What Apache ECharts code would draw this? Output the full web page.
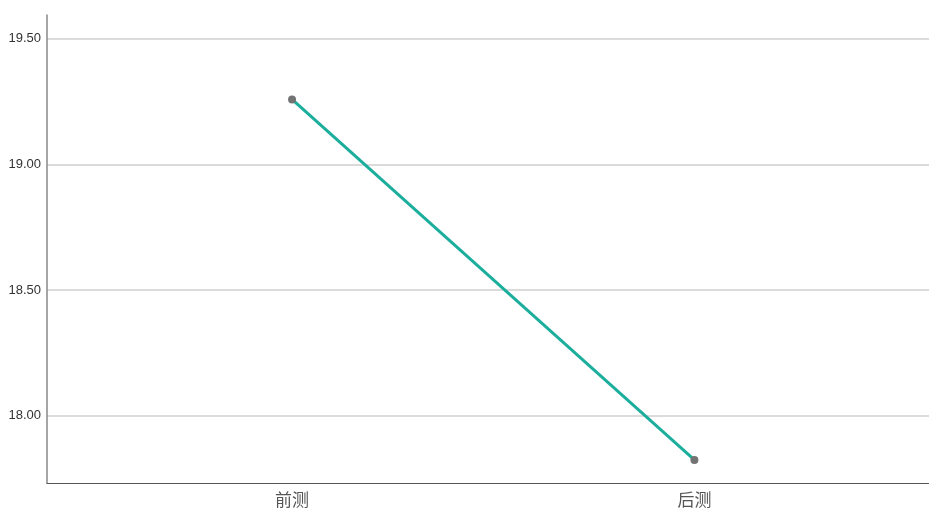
<!DOCTYPE html>
<html><head><meta charset="utf-8">
<script src="https://cdn.jsdelivr.net/npm/echarts@6/dist/echarts.min.js"></script>
<style>html,body{margin:0;padding:0;background:#fff}#c{width:929px;height:511px}</style>
</head><body><div id="c"></div>
<script>
const categories = ['前测', '后测'];
const values = [19.258, 17.824];
const yTicks = [18.0, 18.5, 19.0, 19.5];

const chart = echarts.init(document.getElementById('c'));
const data = values.map((v, i) => [i, v]);
chart.setOption({
  animation: false,
  grid: { left: 47, right: 0, top: 15, bottom: 28, containLabel: false },
  xAxis: {
    type: 'value', min: -0.609, max: 1.583,
    axisLine: { show: true, onZero: false, lineStyle: { color: '#555', width: 1.2 } },
    axisTick: { show: false, customValues: [0, 1] },
    splitLine: { show: false },
    axisLabel: {
      customValues: [0, 1],
      formatter: v => categories[Math.round(v)] || '',
      fontFamily: 'Noto Sans CJK SC', fontSize: 17, color: '#555', margin: 8
    }
  },
  yAxis: {
    type: 'value', min: 17.732, max: 19.594,
    axisLine: { show: true, onZero: false, lineStyle: { color: '#888', width: 1.5 } },
    axisTick: { show: false, customValues: yTicks },
    splitLine: { show: true, lineStyle: { color: '#cfcfcf', width: 1.5 } },
    axisLabel: {
      customValues: yTicks,
      formatter: v => v.toFixed(2),
      fontFamily: 'Arial, Liberation Sans', fontSize: 13, color: '#333', margin: 6
    }
  },
  series: [{
    type: 'line', data: data,
    lineStyle: { color: '#1BAE9C', width: 3 },
    itemStyle: { color: '#737373' },
    symbol: 'circle', symbolSize: 8, showSymbol: true, z: 3
  }]
});
</script></body></html>
